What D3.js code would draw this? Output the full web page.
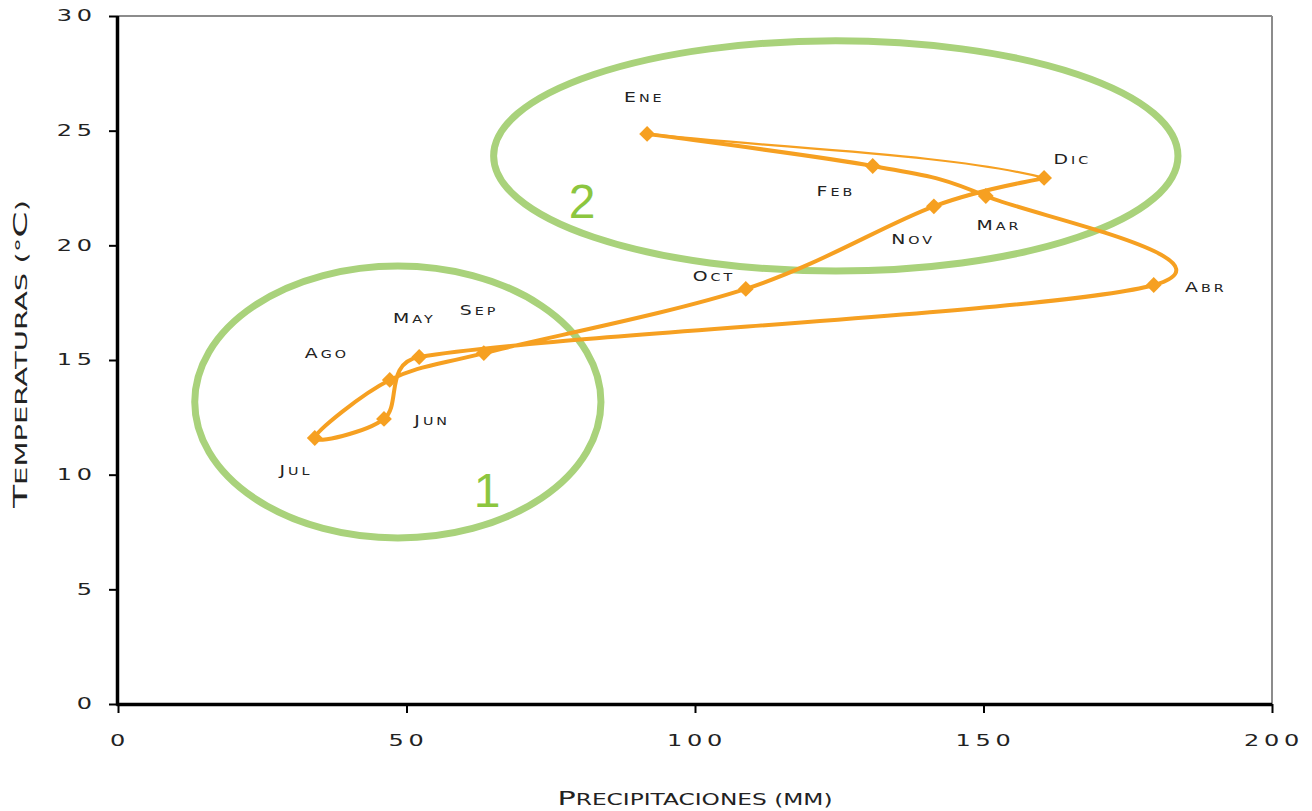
<!DOCTYPE html>
<html><head><meta charset="utf-8">
<script src="https://cdn.jsdelivr.net/npm/d3@7"></script>
<style>
html,body{margin:0;padding:0;background:#fff;}
svg{display:block;}
text{font-family:"DejaVu Sans",sans-serif;fill:#222;}
</style></head>
<body>
<svg id="chart" width="1312" height="811"></svg>
<script>
// ---- data ----
const months = ["Ene","Feb","Mar","Abr","May","Jun","Jul","Ago","Sep","Oct","Nov","Dic"];
const precip = [91.7,130.8,150.4,179.5,52.2,46.1,34.1,47.1,63.4,108.8,141.4,160.5];
const temps  = [24.86,23.46,22.15,18.27,15.13,12.43,11.6,14.13,15.3,18.1,21.7,22.94];
const xTicks = [0,50,100,150,200];
const yTicks = [0,5,10,15,20,25,30];
// label offsets (px) relative to each point
const labelDx = [-4,-38,12,51,-6,47,-20,-64,-6,-33,-22,27];
const labelDy = [-37,25,29,2,-39,1,32,-27,-43,-13,33,-19];
// annotation ellipses (data units)
const groups = ["1","2"];
const ellCx = [48.5,124.4];
const ellCy = [13.17,23.9];
const ellRx = [35.2,59.3];
const ellRy = [5.93,5.02];

const svg = d3.select("#chart");
const L=118, R=1272, T=16, B=704;
const x = d3.scaleLinear().domain([0,200]).range([L,R]);
const y = d3.scaleLinear().domain([0,30]).range([B,T]);
const orange = "#f6a021", green = "#a9d27b";
const TS = 1.6, MS = 1.3; // horizontal widening of tick / month text

// small-caps helper: capitals big, lowercase rendered as smaller capitals
function smallCaps(sel, str, big, small){
  const parts = str.match(/([A-ZÁÉÍÓÚ]+|[^A-ZÁÉÍÓÚ]+)/g);
  parts.forEach(p=>{
    const isBig = /^[A-ZÁÉÍÓÚ]+$/.test(p);
    sel.append("tspan").attr("font-size", isBig?big:small).text(p.toUpperCase());
  });
  return sel;
}

// frame top/right
svg.append("line").attr("x1",L).attr("x2",R).attr("y1",T).attr("y2",T).attr("stroke","#8c8c8c").attr("stroke-width",2);
svg.append("line").attr("x1",R).attr("x2",R).attr("y1",T).attr("y2",B).attr("stroke","#8c8c8c").attr("stroke-width",2);

// axes
const gx = svg.append("g").attr("transform",`translate(0,${B})`)
  .call(d3.axisBottom(x).tickValues(xTicks).tickSize(9).tickPadding(22).tickFormat(d3.format("d")));
const gy = svg.append("g").attr("transform",`translate(${L},0)`)
  .call(d3.axisLeft(y).tickValues(yTicks).tickSize(9).tickPadding(26).tickFormat(d3.format("d")));
[gx,gy].forEach(g=>{
  g.select(".domain").attr("stroke","#000").attr("stroke-width",3.5);
  g.selectAll(".tick line").attr("stroke","#000").attr("stroke-width",2);
  g.selectAll(".tick text").attr("font-size",15).attr("letter-spacing","3px")
    .attr("fill","#222").style("font-family","'DejaVu Sans',sans-serif");
});
gx.selectAll(".tick text").attr("x",1.5/TS).attr("transform",`scale(${TS},1)`);
gy.selectAll(".tick text").attr("x",(-26+3*TS)/TS).attr("transform",`scale(${TS},1)`);
gy.select(".domain").attr("d",`M-0.5,${T}V${B+1.5}`);
gx.select(".domain").attr("d",`M${L-1.5},0.5H${R}`);

// axis titles
smallCaps(svg.append("text").attr("x",695).attr("y",805).attr("text-anchor","middle")
  .attr("textLength",275).attr("lengthAdjust","spacingAndGlyphs"),
  "Precipitaciones (mm)", 19.5, 15);
smallCaps(svg.append("text").attr("transform","translate(27,354) rotate(-90)").attr("text-anchor","middle")
  .attr("textLength",308).attr("lengthAdjust","spacingAndGlyphs"),
  "Temperaturas (°C)", 19.5, 15);

// ellipses
groups.forEach((g,i)=>{
  svg.append("ellipse").attr("cx",x(ellCx[i])).attr("cy",y(ellCy[i]))
    .attr("rx",x(ellRx[i])-x(0)).attr("ry",y(0)-y(ellRy[i]))
    .attr("fill","none").attr("stroke",green).attr("stroke-width",7);
});
svg.append("text").attr("x",487).attr("y",507).attr("text-anchor","middle")
  .attr("font-size",48).style("fill","#8cc63f").style("font-family","'Liberation Sans',sans-serif").text(groups[0]);
svg.append("text").attr("x",582).attr("y",218).attr("text-anchor","middle")
  .attr("font-size",48).style("fill","#8cc63f").style("font-family","'Liberation Sans',sans-serif").text(groups[1]);

// smoothed line (Excel-like bezier), open series Ene..Dic
const pts = months.map((m,i)=>[x(precip[i]),y(temps[i])]);
const n = pts.length;
function dist(a,b){return Math.hypot(a[0]-b[0],a[1]-b[1]);}
function bez(p0,p1,p2,p3,k){
  const d12=dist(p1,p2), d02=dist(p0,p2), d13=dist(p1,p3);
  const f = Math.min(k, d02>0?0.5*d12/d02:k);
  const g = Math.min(k, d13>0?0.5*d12/d13:k);
  const c1=[p1[0]+(p2[0]-p0[0])*f, p1[1]+(p2[1]-p0[1])*f];
  const c2=[p2[0]-(p3[0]-p1[0])*g, p2[1]-(p3[1]-p1[1])*g];
  return `C${c1[0]},${c1[1]},${c2[0]},${c2[1]},${p2[0]},${p2[1]}`;
}
let dThick = `M${pts[0][0]},${pts[0][1]}`;
for(let i=0;i<n-1;i++){
  const p0 = pts[Math.max(i-1,0)], p3 = pts[Math.min(i+2,n-1)];
  dThick += bez(p0,pts[i],pts[i+1],p3,1/6);
}
// closing thin segment Dic -> Ene
const dThin = `M${pts[n-1][0]},${pts[n-1][1]}` + bez(pts[n-2],pts[n-1],pts[0],pts[0],1/3);
svg.append("path").attr("d",dThin).attr("fill","none").attr("stroke",orange).attr("stroke-width",2.2);
svg.append("path").attr("d",dThick).attr("fill","none").attr("stroke",orange).attr("stroke-width",4).attr("stroke-linejoin","round");

// markers
svg.selectAll(".mk").data(months).enter().append("path").attr("class","mk")
  .attr("d",d3.symbol(d3.symbolSquare,125))
  .attr("transform",(d,i)=>`translate(${pts[i][0]},${pts[i][1]}) rotate(45)`)
  .attr("fill",orange);

// month labels
svg.selectAll(".ml").data(months).enter().append("text").attr("class","ml")
  .attr("transform",`scale(${MS},1)`)
  .attr("x",(d,i)=>(pts[i][0]+labelDx[i]+1.2)/MS).attr("y",(d,i)=>pts[i][1]+labelDy[i]+5)
  .attr("text-anchor","middle").attr("letter-spacing","2.3px")
  .each(function(d){ smallCaps(d3.select(this), d, 14.5, 11); });
</script>
</body></html>
